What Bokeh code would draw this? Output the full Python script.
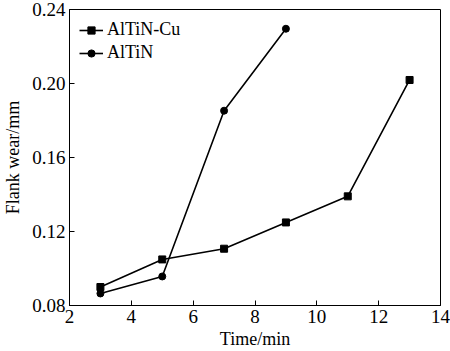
from bokeh.plotting import figure
from bokeh.models import Range1d, FixedTicker, PrintfTickFormatter, Legend, LegendItem
from bokeh.embed import file_html
from bokeh.resources import INLINE

time_cu = [3, 5, 7, 9, 11, 13]
wear_cu = [0.0900, 0.1049, 0.1107, 0.1249, 0.1390, 0.2019]
time_altin = [3, 5, 7, 9]
wear_altin = [0.0865, 0.0957, 0.1853, 0.2296]
x_ticks = [2, 4, 6, 8, 10, 12, 14]
y_ticks = [0.08, 0.12, 0.16, 0.20, 0.24]

FONT = "Liberation Serif"

p = figure(width=450, height=351, output_backend="svg", toolbar_location=None,
           x_range=Range1d(2, 14), y_range=Range1d(0.08, 0.24),
           min_border_left=65, min_border_right=10, min_border_top=9, min_border_bottom=43)
p.xgrid.visible = False
p.ygrid.visible = False
p.outline_line_color = "black"
p.outline_line_width = 1
p.background_fill_color = "white"
p.border_fill_color = "white"

r1l = p.line(time_cu, wear_cu, line_color="black", line_width=1.6)
r1m = p.scatter(time_cu, wear_cu, marker="square", size=7, color="black")
r2l = p.line(time_altin, wear_altin, line_color="black", line_width=1.6)
r2m = p.scatter(time_altin, wear_altin, marker="circle", size=7, color="black")

for ax in (p.xaxis[0], p.yaxis[0]):
    ax.axis_line_color = "black"
    ax.major_tick_in = 5
    ax.major_tick_out = 0
    ax.minor_tick_in = 0
    ax.minor_tick_out = 0
    ax.major_tick_line_color = "black"
    ax.major_label_text_font = FONT
    ax.major_label_text_font_size = "19px"
    ax.major_label_text_color = "black"
    ax.axis_label_text_font = FONT
    ax.axis_label_text_font_size = "18px"
    ax.axis_label_text_font_style = "normal"
    ax.axis_label_text_color = "black"

p.xaxis[0].ticker = FixedTicker(ticks=x_ticks)
p.yaxis[0].ticker = FixedTicker(ticks=y_ticks)
p.yaxis[0].formatter = PrintfTickFormatter(format="%.2f")
p.xaxis[0].axis_label = "Time/min"
p.yaxis[0].axis_label = "Flank wear/mm"
p.xaxis[0].major_label_standoff = 4
p.yaxis[0].major_label_standoff = 4
p.xaxis[0].axis_label_standoff = 3
p.yaxis[0].axis_label_standoff = 6

legend = Legend(items=[LegendItem(label="AlTiN-Cu", renderers=[r1l, r1m]),
                       LegendItem(label="AlTiN", renderers=[r2l, r2m])],
                location="top_left")
legend.border_line_color = None
legend.background_fill_alpha = 0
legend.label_text_font = FONT
legend.label_text_font_size = "18px"
legend.label_text_color = "black"
legend.glyph_width = 24
legend.glyph_height = 18
legend.label_height = 18
legend.spacing = 2
legend.margin = 10
legend.padding = 10
legend.label_standoff = 4
p.add_layout(legend)

open("out.html", "w").write(file_html(p, INLINE))
